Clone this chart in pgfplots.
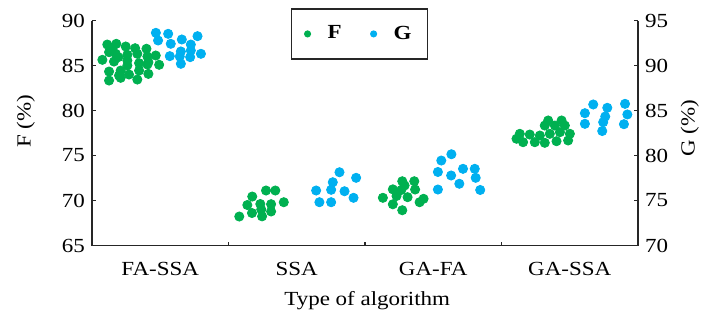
\documentclass[border=0pt]{standalone}
\usepackage{fontspec}
\setmainfont{Liberation Serif}[FakeStretch=1.15]
\usepackage{pgfplots}
\pgfplotsset{compat=1.18}
\definecolor{fgreen}{RGB}{0,176,80}
\definecolor{gblue}{RGB}{0,176,240}

\begin{document}
\begin{tikzpicture}
\path[use as bounding box] (-46pt,-38.75pt) rectangle (307pt,122.75pt);
\pgfplotsset{
  common/.style={
    at={(0pt,0pt)}, anchor=south west,
    width=273pt, height=112.5pt, scale only axis,
    xmin=0, xmax=4,
    tick align=inside,
    /pgf/number format/assume math mode=true,
    tick label style={font=\fontsize{10}{12}\selectfont},
    label style={font=\fontsize{10}{12}\selectfont},
    axis line style={line width=0.8pt, black!85},
    major tick length=2pt,
    every tick/.style={black!85, line width=0.6pt},
    clip=false,
  }
}
\begin{axis}[common,
  axis x line*=bottom, axis y line*=left,
  ymin=65, ymax=90, ytick={65,70,...,90},
  xtick={1,2,3}, xticklabels={,,},
  extra x ticks={0.5,1.5,2.5,3.5},
  extra x tick labels={FA-SSA,SSA,GA-FA,GA-SSA},
  extra x tick style={major tick length=0pt, tick label style={yshift=-5pt}},
  xlabel={Type of algorithm},
  xlabel style={at={(axis description cs:0.504,-0.245)}, anchor=center},
  ylabel={F (\%)},
  ylabel style={at={(axis description cs:-0.121,0.553)}, anchor=center},
  legend columns=2,
  legend style={at={(axis description cs:0.49,1.056)}, anchor=north, draw=black!85, line width=0.9pt,
    font=\fontsize{10}{12}\selectfont\bfseries, inner xsep=6pt, inner ysep=6.5pt,
    /tikz/every even column/.append style={column sep=12pt}},
  legend image code/.code={\path[draw=none,fill=none] (0pt,-1pt) rectangle (10pt,1pt); \draw[#1, mark size=1.3pt] plot coordinates {(2pt,0pt)};},
]
\addplot[only marks, mark=*, color=fgreen, mark size=2.3pt] table {
x y
0.112 87.33
0.178 87.41
0.247 87.11
0.316 86.92
0.399 86.86
0.125 86.48
0.174 86.30
0.259 86.19
0.332 86.30
0.406 86.00
0.467 86.11
0.076 85.63
0.161 85.44
0.259 85.56
0.345 85.26
0.413 85.37
0.492 85.08
0.259 85.00
0.125 84.33
0.210 84.44
0.271 84.00
0.345 84.44
0.413 84.07
0.125 83.33
0.210 83.63
0.332 83.44
0.150 86.85
0.193 85.93
0.198 83.89
0.406 85.11
1.079 68.22
1.172 68.61
1.246 68.24
1.312 68.78
1.138 69.50
1.174 70.44
1.233 69.61
1.312 69.59
1.405 69.81
1.275 71.11
1.343 71.11
1.240 69.00
2.131 70.30
2.204 69.58
2.273 68.92
2.204 71.24
2.273 72.14
2.361 72.14
2.266 71.17
2.367 71.22
2.312 70.37
2.400 69.81
2.429 70.19
2.231 70.50
2.290 71.67
3.342 78.89
3.440 78.89
3.317 78.33
3.391 78.33
3.464 78.33
3.134 77.41
3.207 77.33
3.281 77.22
3.354 77.41
3.428 77.59
3.501 77.41
3.158 76.48
3.244 76.48
3.317 76.41
3.403 76.59
3.488 76.67
3.110 76.86
};
\addlegendimage{only marks, mark=*, color=gblue}
\legend{F,G}
\end{axis}
\begin{axis}[common,
  axis x line=none, axis y line*=right,
  ymin=70, ymax=95, ytick={70,75,...,95},
  ylabel={G (\%)},
  ylabel style={at={(axis description cs:1.095,0.522)}, anchor=center},
]
\addplot[only marks, mark=*, color=gblue, mark size=2.3pt] table {
x y
0.468 93.63
0.558 93.52
0.773 93.26
0.484 92.78
0.577 92.41
0.658 92.89
0.724 92.33
0.651 91.56
0.724 91.67
0.570 91.04
0.643 91.00
0.798 91.30
0.719 90.93
0.651 90.19
1.642 76.11
1.666 74.81
1.752 74.81
1.764 77.03
1.752 76.19
1.813 78.14
1.850 76.03
1.916 75.30
1.935 77.52
2.534 76.22
2.534 78.17
2.559 79.44
2.633 80.14
2.631 77.78
2.691 76.86
2.718 78.52
2.804 78.52
2.811 77.52
2.844 76.17
3.672 85.67
3.611 84.70
3.611 83.52
3.775 85.30
3.760 84.33
3.745 83.70
3.738 82.72
3.905 85.74
3.922 84.56
3.897 83.48
};
\end{axis}
\end{tikzpicture}
\end{document}
